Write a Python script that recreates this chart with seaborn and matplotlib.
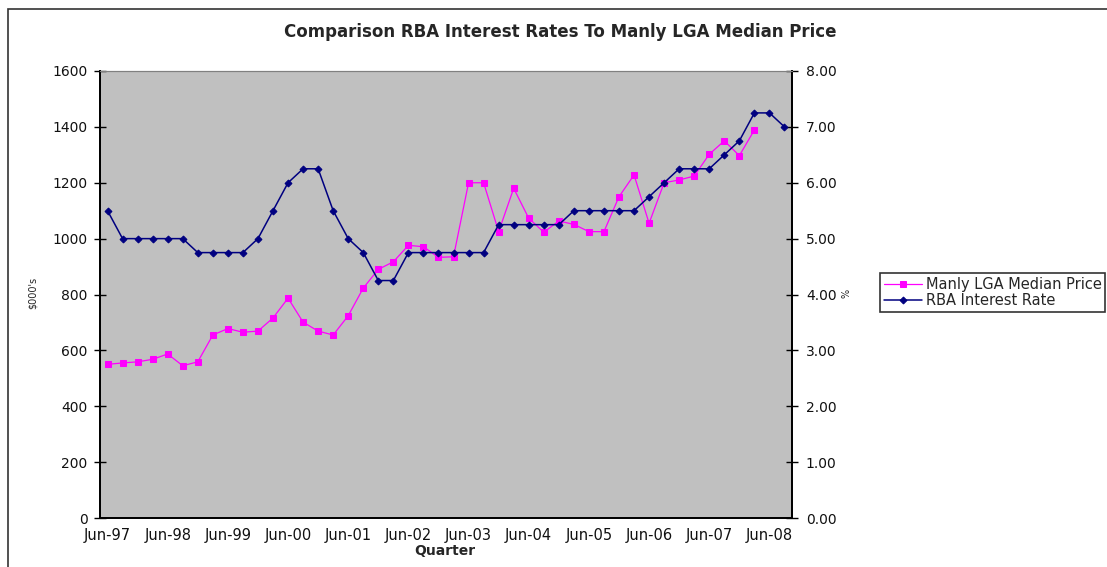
import numpy as np
import matplotlib
matplotlib.use("Agg")
import matplotlib.pyplot as plt
from matplotlib.patches import Rectangle
import seaborn as sns

# --- data -----------------------------------------------------------------
years = ["97", "98", "99", "00", "01", "02", "03", "04", "05", "06", "07", "08"]
tick_labels = ["Jun-" + y for y in years]
n_quarters = 46  # Jun-97 .. Sep-08

# Manly LGA median price ($000's), Jun-97 .. Mar-08
manly_price = [550, 555, 559, 568, 587, 545, 559, 655, 678, 665,
               669, 716, 787, 701, 669, 655, 724, 823, 890, 917,
               976, 971, 933, 935, 1200, 1200, 1025, 1180, 1073, 1023,
               1063, 1051, 1025, 1025, 1150, 1228, 1055, 1200, 1210, 1224,
               1302, 1350, 1297, 1389]

# RBA cash rate (%), Jun-97 .. Sep-08
rba_rate = [5.50, 5.00, 5.00, 5.00, 5.00, 5.00, 4.75, 4.75, 4.75, 4.75,
            5.00, 5.50, 6.00, 6.25, 6.25, 5.50, 5.00, 4.75, 4.25, 4.25,
            4.75, 4.75, 4.75, 4.75, 4.75, 4.75, 5.25, 5.25, 5.25, 5.25,
            5.25, 5.50, 5.50, 5.50, 5.50, 5.50, 5.75, 6.00, 6.25, 6.25,
            6.25, 6.50, 6.75, 7.25, 7.25, 7.00]

# --- figure ------------------------------------------------------------------
sns.set_style("white")
plt.rcParams["font.family"] = ["DejaVu Sans"]

W, H = 1107, 567
fig = plt.figure(figsize=(W / 100, H / 100), dpi=100)
ax = fig.add_axes([100 / W, (H - 518) / H, 692 / W, 447 / H])
ax.set_facecolor("#C0C0C0")
ax2 = ax.twinx()

sns.lineplot(x=np.arange(len(manly_price)), y=manly_price, ax=ax,
             color="#FF00FF", lw=0.9, marker="s", markersize=4.5,
             markeredgecolor="#FF00FF", label="Manly LGA Median Price",
             legend=False)
sns.lineplot(x=np.arange(len(rba_rate)), y=rba_rate, ax=ax2,
             color="#000080", lw=1.1, marker="D", markersize=3.5,
             markeredgecolor="#000080", label="RBA Interest Rate",
             legend=False)

ax.set_xlim(-0.5, n_quarters - 0.5)
ax.set_ylim(0, 1600)
ax2.set_ylim(0, 8)
ax.set_yticks(np.arange(0, 1601, 200))
ax2.set_yticks(np.arange(0, 8.01, 1))
ax2.set_yticklabels([f"{v:.2f}" for v in np.arange(0, 8.01, 1)])

ax.set_xticks(np.arange(0, n_quarters, 4))
ax.set_xticklabels(tick_labels)
ax.set_xticks(np.arange(-0.5, n_quarters, 1), minor=True)
ax.tick_params(axis="x", which="major", length=0, pad=7, labelsize=10.5,
               labelcolor="#111111")
ax.tick_params(axis="x", which="minor", length=6, width=1,
               direction="inout", color="black")
ax.tick_params(axis="y", length=8, width=1, direction="inout", pad=5,
               labelsize=10, color="black", labelcolor="#111111")
ax2.tick_params(axis="y", length=8, width=1, direction="inout", pad=6,
                labelsize=10, color="black", labelcolor="#111111")
ax.set_xlabel("")
ax.set_ylabel("")
ax2.set_ylabel("")

for a in (ax, ax2):
    for side in ("left", "bottom", "right"):
        a.spines[side].set_color("black")
        a.spines[side].set_linewidth(1.3)
    a.spines["top"].set_color("#808080")
    a.spines["top"].set_linewidth(0.8)

# texts
fig.text(560 / W, 1 - 32 / H, "Comparison RBA Interest Rates To Manly LGA Median Price",
         ha="center", va="center", fontsize=12, fontweight="bold")
fig.text(445 / W, 1 - 551 / H, "Quarter", ha="center", va="center",
         fontsize=10, fontweight="bold")
fig.text(33 / W, 1 - 293 / H, "$000's", ha="center", va="center",
         rotation=90, fontsize=7)
fig.text(846 / W, 1 - 293 / H, "%", ha="center", va="center",
         rotation=90, fontsize=7)

# legend
handles = [ax.get_lines()[0], ax2.get_lines()[0]]
leg = fig.legend(handles, [h.get_label() for h in handles],
                 loc="lower left", bbox_to_anchor=(880 / W, (H - 312) / H),
                 bbox_transform=fig.transFigure, fontsize=10.5,
                 frameon=True, fancybox=False, edgecolor="black",
                 borderpad=0.25, labelspacing=0.1, handlelength=2.6,
                 handletextpad=0.3, borderaxespad=0)
leg.get_frame().set_linewidth(1.2)

# outer chart border
fig.patches.append(Rectangle((8 / W, -0.1), 1.5, 1 - 9 / H + 0.1,
                             transform=fig.transFigure, fill=False,
                             edgecolor="#333333", lw=1.2))

fig.savefig("out.png", dpi=100)
